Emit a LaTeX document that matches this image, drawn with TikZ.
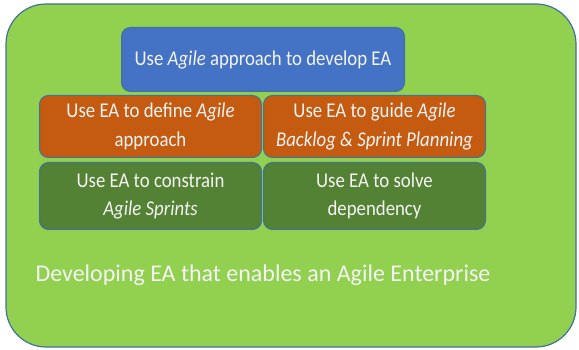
\documentclass[tikz,border=0pt]{standalone}
\usepackage{fontspec}
\usepackage{graphicx}
\setmainfont{Carlito}
\definecolor{outerfill}{HTML}{92D050}
\definecolor{outerline}{HTML}{41719C}
\definecolor{bluefill}{HTML}{4472C4}
\definecolor{orangefill}{HTML}{C55A11}
\definecolor{greenfill}{HTML}{548235}
\definecolor{txt}{HTML}{F4F4F4}
\newcommand{\tallbox}[1]{\scalebox{1}[1.12]{\begin{tabular}{@{}c@{}}#1\end{tabular}}}
\begin{document}
\begin{tikzpicture}[x=1pt,y=-1pt,
  panel/.style={draw=outerline, line width=1pt, rounded corners=9pt},
  boxtext/.style={text=txt, inner sep=0pt, font=\fontsize{18.8}{25.5}\selectfont}]
\useasboundingbox (0,0) rectangle (579,350);
\draw[outerline, fill=outerfill, line width=1.2pt, rounded corners=40pt] (6,4) rectangle (576,347);
\node[panel, fill=bluefill, minimum width=283pt, minimum height=64pt, anchor=north west] (top) at (121,27) {};
\node[boxtext] at (top.center) {\tallbox{Use \textit{Agile} approach to develop EA}};
\node[panel, fill=orangefill, minimum width=222pt, minimum height=62pt, anchor=north west] (o1) at (39,95) {};
\node[boxtext] at (o1.center) {\tallbox{Use EA to define \textit{Agile}\\approach}};
\node[panel, fill=orangefill, minimum width=222pt, minimum height=62pt, anchor=north west] (o2) at (263,95) {};
\node[boxtext] at (o2.center) {\tallbox{Use EA to guide \textit{Agile}\\\textit{Backlog \& Sprint Planning}}};
\node[panel, fill=greenfill, minimum width=222pt, minimum height=67pt, anchor=north west] (g1) at (39,162) {};
\node[boxtext] at (g1.center) {\tallbox{Use EA to constrain\\\textit{Agile Sprints}}};
\node[panel, fill=greenfill, minimum width=222pt, minimum height=67pt, anchor=north west] (g2) at (263,162) {};
\node[boxtext] at (g2.center) {\tallbox{Use EA to solve\\dependency}};
\node[text=txt, inner sep=0pt, anchor=base, font=\fontsize{24}{28}\selectfont] (cap) at (263,281) {Developing EA that enables an Agile Enterprise};
\end{tikzpicture}
\end{document}
